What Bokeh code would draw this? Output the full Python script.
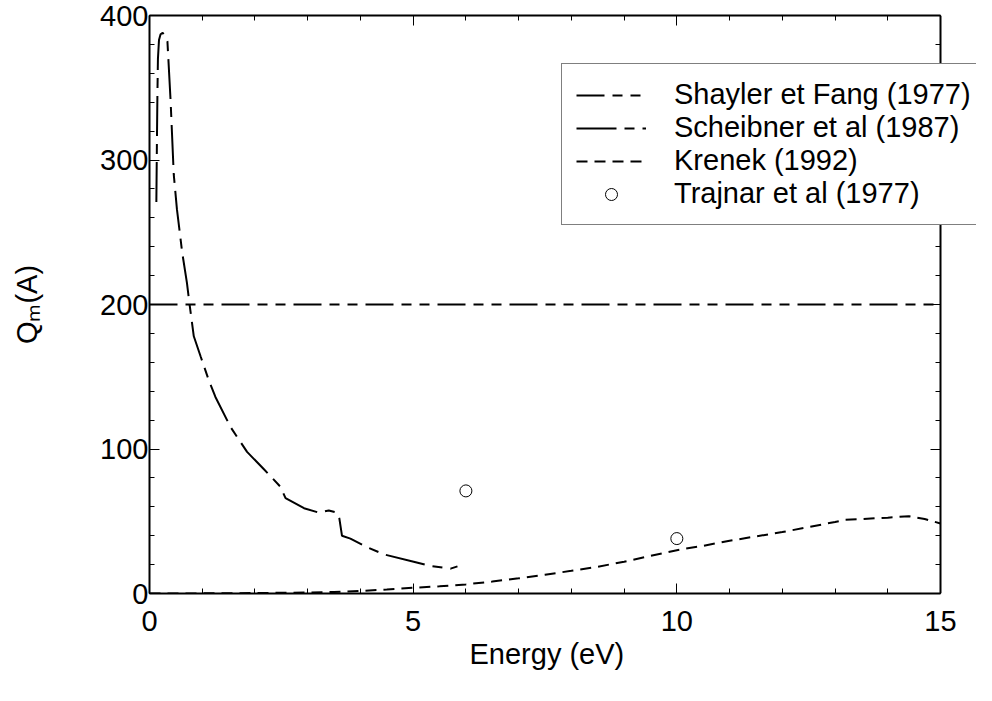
from bokeh.plotting import figure
from bokeh.models import (Range1d, FixedTicker, LinearAxis, Legend, LegendItem,
                          Title, CustomJSTickFormatter)
from bokeh.embed import file_html
from bokeh.resources import INLINE

# ---------------- data ----------------
shayler_x = [0.0, 15.0]
shayler_y = [200.0, 200.0]

scheibner_x = [0.13, 0.14, 0.15, 0.16, 0.18, 0.21, 0.25, 0.29, 0.34, 0.40, 0.46, 0.52,
               0.62, 0.71, 0.76, 0.84, 0.97, 1.12, 1.25, 1.54, 1.85, 2.17, 2.48, 2.58,
               2.93, 3.21, 3.40, 3.55, 3.60, 3.65, 3.81, 4.13, 4.45, 5.01, 5.33, 5.71, 5.84]
scheibner_y = [271, 310, 345, 370, 383, 387, 388, 386, 382, 341, 290, 266,
               236, 215, 200, 178, 164, 148, 136, 115, 98, 86, 74, 66,
               59, 56, 57.5, 56, 52, 40, 38, 32, 27, 22, 19, 17.2, 18.8]

krenek_x = [0, 0.5, 1, 1.5, 2, 2.5, 3, 3.5, 4, 4.5, 5, 5.5, 6, 6.5, 7, 7.5, 8, 8.5, 9,
            9.5, 10, 10.5, 11, 11.5, 12, 12.5, 13, 13.2, 13.5, 14, 14.4, 14.7, 15]
krenek_y = [0, 0, 0.1, 0.2, 0.3, 0.5, 0.7, 1.1, 1.8, 2.7, 4, 5, 6.3, 8.3, 10.5, 13, 15.7,
            18.5, 22, 26, 30, 33, 36.5, 39.5, 42.5, 46, 49.5, 51, 51.5, 52.5, 53.5, 51.5, 48.5]

trajnar_x = [6.0, 10.0]
trajnar_y = [71.0, 38.0]

x_major = [0, 5, 10, 15]
x_minor = list(range(0, 16))
y_major = [0, 100, 200, 300, 400]
y_minor = list(range(0, 401, 20))

FONT = "Liberation Sans"
FS = "29px"

# the axes box spans 791 px; the frame is widened so the legend can overhang it
AX_W = 791
FRAME_W = 827
x_lo, x_hi = x_major[0], x_major[-1]
x_end = x_lo + (x_hi - x_lo) * FRAME_W / AX_W

p = figure(frame_width=FRAME_W, frame_height=578,
           x_range=Range1d(x_lo, x_end), y_range=Range1d(y_major[0], y_major[-1]),
           output_backend="svg", toolbar_location=None,
           min_border_left=149, min_border_right=0,
           min_border_top=15, min_border_bottom=40,
           background_fill_color="white", border_fill_color="white")
p.grid.visible = False
p.outline_line_color = None

xt = FixedTicker(ticks=x_major, minor_ticks=x_minor)
yt = FixedTicker(ticks=y_major, minor_ticks=y_minor)
blank = CustomJSTickFormatter(code="return ''")

def style(ax):
    ax.axis_line_color = "black"
    ax.axis_line_width = 2
    ax.major_tick_in = 10
    ax.major_tick_out = 0
    ax.minor_tick_in = 5
    ax.minor_tick_out = 0
    ax.major_tick_line_width = 1
    ax.minor_tick_line_width = 1
    ax.major_tick_line_color = "black"
    ax.minor_tick_line_color = "black"
    ax.major_label_text_font = FONT
    ax.major_label_text_font_size = FS
    ax.major_label_text_color = "black"
    ax.axis_label_text_font = FONT
    ax.axis_label_text_font_size = FS
    ax.axis_label_text_font_style = "normal"
    ax.axis_label_text_color = "black"

bx = p.xaxis[0]
by = p.yaxis[0]
bx.ticker = xt
by.ticker = yt
style(bx)
style(by)
bx.bounds = (x_lo, x_hi)
bx.major_label_standoff = 17
by.major_label_standoff = 1
by.axis_label = "Q\u2098(A)"
by.axis_label_standoff = 54

# mirrored ticks: top axis and an axis pinned at x = 15 (ticks pointing inwards)
tx = LinearAxis(ticker=xt, formatter=blank)
style(tx)
tx.bounds = (x_lo, x_hi)
tx.major_label_standoff = 0
p.add_layout(tx, "above")

ry = LinearAxis(ticker=yt, formatter=blank, fixed_location=x_hi)
style(ry)
ry.major_tick_in = 0
ry.major_tick_out = 10
ry.minor_tick_in = 0
ry.minor_tick_out = 5
ry.major_label_standoff = 0
p.add_layout(ry, "left")

# x-axis title, placed under the centre of the axes box (not the widened frame)
xtitle = Title(text="Energy (eV)", align="left", offset=320,
               text_font=FONT, text_font_size=FS, text_font_style="normal",
               text_color="black", standoff=4)
p.add_layout(xtitle, "below")

# ---------------- series ----------------
r_sh = p.line(shayler_x, shayler_y, line_color="black", line_width=2,
              line_dash="28 8 10 8 10 8")
r_sc = p.line(scheibner_x, scheibner_y, line_color="black", line_width=2,
              line_dash="40 8 10 8")
r_kr = p.line(krenek_x, krenek_y, line_color="black", line_width=2,
              line_dash="11 7")
r_tr = p.scatter(trajnar_x, trajnar_y, marker="circle", size=12,
                 fill_color="white", line_color="black", line_width=1)

legend = Legend(items=[
    LegendItem(label="Shayler et Fang (1977)", renderers=[r_sh]),
    LegendItem(label="Scheibner et al (1987)", renderers=[r_sc]),
    LegendItem(label="Krenek (1992)", renderers=[r_kr]),
    LegendItem(label="Trajnar et al (1977)", renderers=[r_tr]),
], location=(412, 368))
legend.label_text_font = FONT
legend.label_text_font_size = FS
legend.label_text_color = "black"
legend.glyph_width = 70
legend.glyph_height = 30
legend.label_height = 30
legend.label_standoff = 28
legend.spacing = 0
legend.padding = 14
legend.margin = 0
legend.border_line_color = "black"
legend.border_line_width = 1
legend.background_fill_color = "white"
legend.background_fill_alpha = 1.0
p.add_layout(legend)

open("out.html", "w").write(file_html(p, INLINE))
